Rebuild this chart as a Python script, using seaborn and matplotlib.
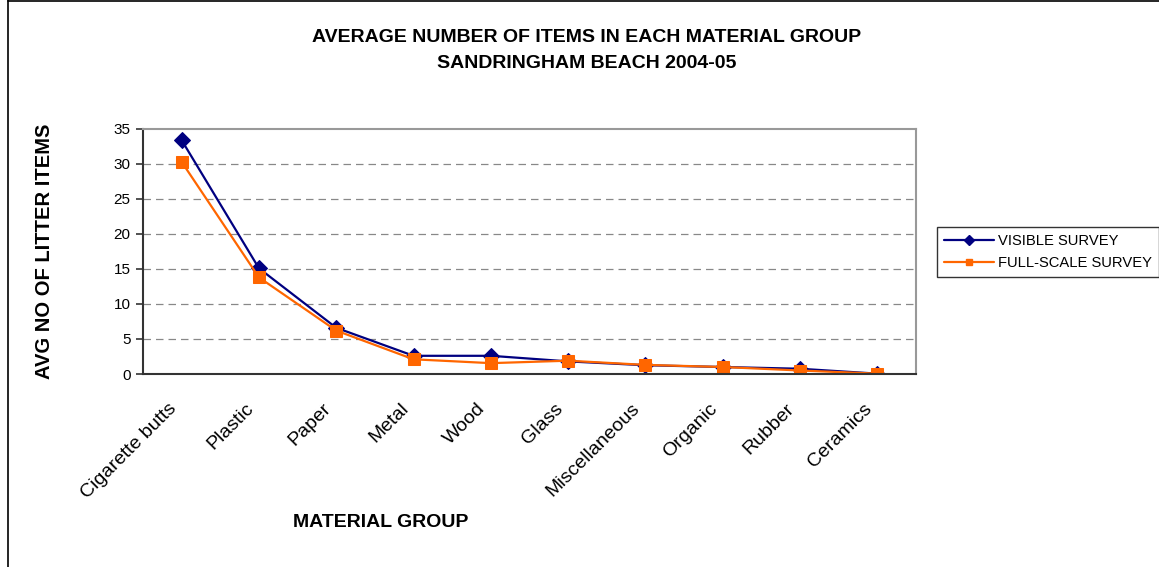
import matplotlib
matplotlib.use("Agg")
import matplotlib.pyplot as plt
import matplotlib.transforms as mtransforms
import seaborn as sns
import pandas as pd
import numpy as np
from matplotlib.lines import Line2D

categories = ["Cigarette butts", "Plastic", "Paper", "Metal", "Wood", "Glass",
              "Miscellaneous", "Organic", "Rubber", "Ceramics"]
visible = [33.4, 15.1, 6.6, 2.6, 2.6, 1.8, 1.25, 1.0, 0.75, 0.05]
full_scale = [30.3, 13.8, 6.2, 2.1, 1.55, 1.9, 1.3, 1.0, 0.5, 0.05]
yticks = [0, 5, 10, 15, 20, 25, 30, 35]

sns.set_theme(style="white")
plt.rcParams['font.family'] = ['Liberation Sans', 'DejaVu Sans']
plt.rcParams['text.color'] = 'black'
plt.rcParams['axes.labelcolor'] = 'black'
plt.rcParams['xtick.color'] = 'black'
plt.rcParams['ytick.color'] = 'black'

df = pd.DataFrame({
    "pos": list(range(len(categories))) * 2,
    "value": visible + full_scale,
    "series": ["VISIBLE SURVEY"] * len(categories) + ["FULL-SCALE SURVEY"] * len(categories),
})

fig = plt.figure(figsize=(11.59, 5.67), dpi=100)
ax = fig.add_axes([143/1159, 1-374/567, (916-143)/1159, (374-129)/567])

navy = "#000080"
orange = "#FF6600"
sns.lineplot(data=df[df.series == "VISIBLE SURVEY"], x="pos", y="value", ax=ax,
             color=navy, marker="D", markersize=8, markeredgecolor=navy,
             linewidth=1.6, legend=False)
sns.lineplot(data=df[df.series == "FULL-SCALE SURVEY"], x="pos", y="value", ax=ax,
             color=orange, marker="s", markersize=8.5, markeredgecolor=orange,
             linewidth=1.6, legend=False)

ax.set_xlim(-0.5, len(categories) - 0.5)
ax.set_ylim(0, 35)
ax.set_yticks(yticks)
ax.set_yticklabels([str(t) for t in yticks], fontsize=11)
ax.set_xticks(range(len(categories)))
ax.set_xticklabels([])
label_tf = ax.get_xaxis_transform() + mtransforms.ScaledTranslation(-14/100, -26/100, fig.dpi_scale_trans)
for i, name in enumerate(categories):
    ax.text(i, 0, name, transform=label_tf, rotation=45, ha="right", va="top",
            rotation_mode="anchor", fontsize=14, color="black")
ax.set_xticks(np.arange(-0.5, len(categories), 1.0), minor=True)
ax.tick_params(axis="x", which="major", length=0)
ax.tick_params(axis="x", which="minor", length=5, width=1.2, color="#333333", direction="out")
ax.tick_params(axis="y", length=5, width=1.2, color="#333333", direction="out", left=True, pad=4)

for y in yticks[1:-1]:
    ax.axhline(y, color="#888888", linestyle=(0, (6, 4)), linewidth=0.9, zorder=0)

for s in ["left", "bottom"]:
    ax.spines[s].set_color("#333333")
    ax.spines[s].set_linewidth(1.5)
for s in ["top", "right"]:
    ax.spines[s].set_color("#999999")
    ax.spines[s].set_linewidth(1.5)

ax.set_xlabel("MATERIAL GROUP", fontsize=14, fontweight="bold")
ax.xaxis.set_label_coords((381-143)/(916-143), -(514-374)/(374-129))
ax.set_ylabel("AVG NO OF LITTER ITEMS", fontsize=14.5, fontweight="bold")
ax.yaxis.set_label_coords(-(143-54)/(916-143), 0.5)

fig.text(587/1159, 1-38/567, "AVERAGE NUMBER OF ITEMS IN EACH MATERIAL GROUP",
         ha="center", va="center", fontsize=14, fontweight="bold")
fig.text(587/1159, 1-64/567, "SANDRINGHAM BEACH 2004-05",
         ha="center", va="center", fontsize=14, fontweight="bold")

handles = [
    Line2D([], [], color=navy, marker="D", markersize=5, linewidth=1.6, label="VISIBLE SURVEY"),
    Line2D([], [], color=orange, marker="s", markersize=5, linewidth=1.6, label="FULL-SCALE SURVEY"),
]
leg = fig.legend(handles=handles, loc="center left",
                 bbox_to_anchor=(937/1159, 1-252/567), frameon=True, fancybox=False,
                 fontsize=10.6, handlelength=3.4, borderpad=0.45, labelspacing=0.55,
                 handletextpad=0.3, borderaxespad=0)
leg.get_frame().set_edgecolor("black")
leg.get_frame().set_linewidth(1.0)

# outer chart frame (top and left visible)
fig.add_artist(Line2D([8/1159, 8/1159], [0, 1], transform=fig.transFigure, color="black", linewidth=1.2))
fig.add_artist(Line2D([8/1159, 1], [1-1/567, 1-1/567], transform=fig.transFigure, color="black", linewidth=1.2))

fig.savefig("out.png", dpi=100)
